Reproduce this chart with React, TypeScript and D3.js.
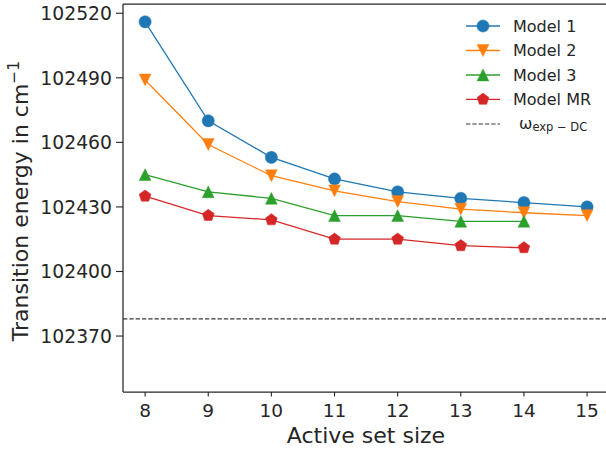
import React from "react";
import * as d3 from "d3";

const sizes = [8, 9, 10, 11, 12, 13, 14, 15];
const model1 = [102516, 102470, 102453, 102443, 102437, 102434, 102432, 102430];
const model2 = [102489, 102459, 102444.5, 102437.5, 102432.5, 102429, 102427.3, 102426];
const model3 = [102445, 102437, 102434, 102426, 102426, 102423.3, 102423.3];
const modelMR = [102435, 102426, 102424, 102415, 102415, 102412, 102411];
const expDC = 102378;
const xTicks = [8, 9, 10, 11, 12, 13, 14, 15];
const yTicks = [102370, 102400, 102430, 102460, 102490, 102520];

const seriesNames = ["Model 1", "Model 2", "Model 3", "Model MR"];
const seriesValues = [model1, model2, model3, modelMR];
const seriesColors = ["#1f77b4", "#ff7f0e", "#2ca02c", "#d62728"];
const seriesMarkers = ["circle", "tridown", "triup", "pentagon"];

const FONT = "DejaVu Sans, sans-serif";
const TXT = "#262626";

function markerPath(kind: string, r: number): string {
  if (kind === "circle") {
    return `M${r},0A${r},${r} 0 1,1 ${-r},0A${r},${r} 0 1,1 ${r},0Z`;
  }
  if (kind === "tridown") {
    return `M0,${r}L${-r},${-r}L${r},${-r}Z`;
  }
  if (kind === "triup") {
    return `M0,${-r}L${-r},${r}L${r},${r}Z`;
  }
  // pentagon pointing up
  const pts: string[] = [];
  for (let i = 0; i < 5; i++) {
    const a = -Math.PI / 2 + (i * 2 * Math.PI) / 5;
    pts.push(`${(r * Math.cos(a)).toFixed(3)},${(r * Math.sin(a)).toFixed(3)}`);
  }
  return "M" + pts.join("L") + "Z";
}

const markerSize: Record<string, number> = {
  circle: 6.1,
  tridown: 5.9,
  triup: 5.9,
  pentagon: 6.2,
};

export default function App() {
  const left = 123;
  const top = 4;
  const bottom = 392;
  const x = d3.scaleLinear().domain([7.65, 15.35]).range([left, left + 7.7 * 63.14]);
  const y = d3.scaleLinear().domain([102344, 102524.3]).range([bottom, top]);

  const line = d3
    .line<number>()
    .x((_, i) => x(sizes[i]))
    .y((d) => y(d));

  const legendX0 = 466;
  const legendX1 = 500;
  const legendTextX = 513;
  const legendYs = [26, 50.5, 75, 99.3];

  return (
    <div style={{ position: "absolute", left: 0, top: 0 }}>
      <svg width={606} height={453} style={{ display: "block", background: "#fff" }} fontFamily={FONT}>
        <rect x={0} y={0} width={606} height={453} fill="#fff" />
        {/* dashed reference line */}
        <line
          x1={left}
          x2={606}
          y1={y(expDC)}
          y2={y(expDC)}
          stroke="#3a3a3a"
          strokeWidth={1.2}
          strokeDasharray="4.4,1.9"
        />
        {/* series */}
        {seriesValues.map((vals, si) => (
          <g key={si}>
            <path d={line(vals) || ""} fill="none" stroke={seriesColors[si]} strokeWidth={1.3} />
            {vals.map((v, i) => (
              <path
                key={i}
                transform={`translate(${x(sizes[i])},${y(v)})`}
                d={markerPath(seriesMarkers[si], markerSize[seriesMarkers[si]])}
                fill={seriesColors[si]}
                stroke={seriesColors[si]}
                strokeWidth={0.5}
              />
            ))}
          </g>
        ))}
        {/* spines */}
        <line x1={left} x2={left} y1={top} y2={bottom} stroke={TXT} strokeWidth={1.25} />
        <line x1={left} x2={606} y1={bottom} y2={bottom} stroke={TXT} strokeWidth={1.25} />
        <line x1={left} x2={606} y1={top} y2={top} stroke={TXT} strokeWidth={1.25} />
        {/* x ticks */}
        {xTicks.map((t) => (
          <g key={t}>
            <line x1={x(t)} x2={x(t)} y1={bottom} y2={bottom + 4.5} stroke={TXT} strokeWidth={1.1} />
            <text x={x(t)} y={417} textAnchor="middle" fontSize={18.5} fill={TXT}>
              {t}
            </text>
          </g>
        ))}
        {/* y ticks */}
        {yTicks.map((t) => (
          <g key={t}>
            <line x1={left - 7} x2={left} y1={y(t)} y2={y(t)} stroke={TXT} strokeWidth={1.1} />
            <text x={112} y={y(t)} dy="0.36em" textAnchor="end" fontSize={18.8} fill={TXT}>
              {t}
            </text>
          </g>
        ))}
        {/* axis labels */}
        <text x={366} y={443} textAnchor="middle" fontSize={22} fill={TXT}>
          Active set size
        </text>
        <text
          transform={`translate(28.3,201) rotate(-90)`}
          textAnchor="middle"
          fontSize={22}
          fill={TXT}
        >
          Transition energy in cm
          <tspan fontSize={15.5} dy={-9}>
            −1
          </tspan>
        </text>
        {/* legend */}
        {seriesNames.map((name, si) => (
          <g key={name}>
            <line
              x1={legendX0}
              x2={legendX1}
              y1={legendYs[si]}
              y2={legendYs[si]}
              stroke={seriesColors[si]}
              strokeWidth={1.3}
            />
            <path
              transform={`translate(${(legendX0 + legendX1) / 2},${legendYs[si]})`}
              d={markerPath(seriesMarkers[si], markerSize[seriesMarkers[si]])}
              fill={seriesColors[si]}
              stroke={seriesColors[si]}
              strokeWidth={0.5}
            />
            <text x={legendTextX} y={legendYs[si] + 5.8} fontSize={16} fill={TXT}>
              {name}
            </text>
          </g>
        ))}
        <line
          x1={legendX0}
          x2={legendX1}
          y1={124}
          y2={124}
          stroke="#3a3a3a"
          strokeWidth={1.2}
          strokeDasharray="4.4,1.9"
        />
        <text x={519} y={128.5} fontSize={16} fill={TXT}>
          ω
          <tspan fontSize={11.5} dy={2.8}>
            exp − DC
          </tspan>
        </text>
      </svg>
    </div>
  );
}
